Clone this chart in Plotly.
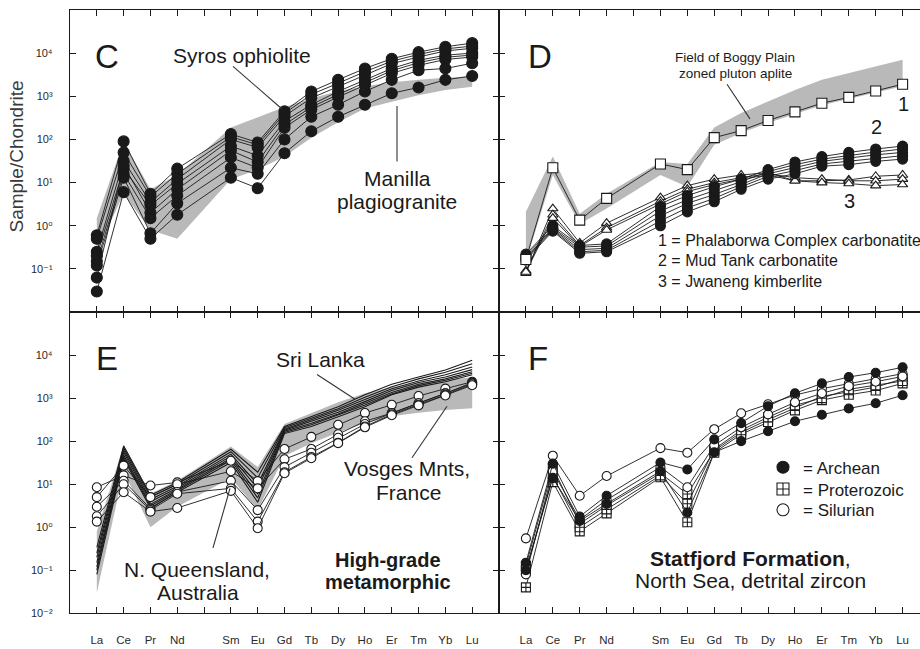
import plotly.graph_objects as go

W, H = 920, 649

# REE axis positions (Pm is a gap with no data) and the plotted elements
AXIS_ELEMENTS = ["La", "Ce", "Pr", "Nd", "Pm", "Sm", "Eu", "Gd", "Tb", "Dy", "Ho", "Er", "Tm", "Yb", "Lu"]
REE = ["La", "Ce", "Pr", "Nd", "Sm", "Eu", "Gd", "Tb", "Dy", "Ho", "Er", "Tm", "Yb", "Lu"]
TICK_TEXT = ["" if e == "Pm" else e for e in AXIS_ELEMENTS]

# ---- Panel C: Syros ophiolite zircons and Manilla plagiogranite field
syros = [
    [0.6, 90, 5.5, 21, 133, 85, 450, 1290, 2400, 4400, 7400, 10500, 14000, 17000],
    [0.5, 50, 4.7, 16, 115, 75, 400, 1100, 2000, 3700, 6500, 9300, 12500, 14500],
    [0.25, 32, 3.5, 12, 100, 65, 345, 910, 1670, 3100, 5700, 8100, 11200, 12900],
    [0.2, 21, 3.0, 9.4, 70, 42, 265, 635, 1290, 2400, 4400, 6800, 8900, 10000],
    [0.063, 25, 2.0, 7.0, 55, 30, 220, 560, 1100, 2100, 3900, 6000, 8000, 9000],
    [0.15, 16, 1.5, 5.0, 38, 22, 187, 490, 960, 1830, 3400, 5200, 7100, 8100],
    [0.12, 13, 0.67, 3.3, 22, 16, 100, 335, 635, 1290, 2400, 4000, 4400, 5800],
    [0.03, 6, 0.5, 1.8, 13, 7.4, 48, 155, 335, 635, 1170, 1600, 2400, 2950],
]
manilla_upper = [1.5, 90, 7, 15, 190, 330, 560, 900, 1300, 1700, 2100, 2400, 2700, 2900]
manilla_lower = [0.25, 5.5, 0.8, 0.5, 12, 20, 40, 110, 250, 520, 750, 1050, 1400, 1650]

# ---- Panel D: carbonatites, kimberlite and Boggy Plain aplite field
phalaborwa = [0.165, 22, 1.35, 4.3, 27, 20, 110, 160, 275, 435, 690, 940, 1320, 1900]
mud_tank = [
    [0.22, 1.0, 0.35, 0.38, 2.8, 5.0, 8.0, 12, 20, 30, 40, 50, 60, 70],
    [0.2, 0.9, 0.32, 0.34, 2.2, 4.0, 6.5, 10.5, 18, 26, 35, 43, 51, 60],
    [0.18, 0.85, 0.28, 0.3, 1.7, 3.3, 5.3, 9, 16, 22, 31, 37, 44, 50],
    [0.17, 0.8, 0.25, 0.27, 1.3, 2.6, 4.3, 8, 14, 19, 27, 31, 37, 42],
    [0.16, 0.75, 0.23, 0.25, 1.0, 2.1, 3.6, 7, 12, 16, 24, 26, 31, 35],
]
jwaneng = [
    [0.08, 2.5, 0.4, 1.15, 4.5, 8.5, 12, 15, 17, 11, 11, 11.5, 14, 15],
    [0.09, 1.8, 0.35, 0.9, 3.7, 7, 10, 13, 16, 13, 12, 11, 11, 12],
    [0.085, 1.5, 0.33, 0.8, 3.2, 6.2, 9, 12, 15, 11, 10, 9.5, 8.5, 9],
]
boggy_upper = [2.1, 40, 1.9, 5.5, 30, 27, 190, 410, 760, 1400, 2400, 3400, 4800, 7000]
boggy_lower = [0.15, 15, 1.1, 2.5, 15, 8, 75, 140, 240, 390, 620, 870, 1200, 1700]

# ---- Panel E: high-grade metamorphic zircons
sri_lanka = [
    [0.34, 78, 5.5, 11, 65, 19, 220, 370, 630, 1200, 2100, 3100, 4500, 7600],
    [0.25, 70, 5.0, 10, 57, 14, 205, 340, 570, 1050, 1850, 2800, 4000, 6300],
    [0.2, 62, 4.4, 9, 50, 10, 190, 310, 520, 930, 1650, 2500, 3500, 5300],
    [0.15, 55, 3.9, 8.2, 45, 8, 180, 290, 470, 830, 1500, 2300, 3100, 4600],
    [0.12, 48, 3.4, 7.5, 40, 6, 170, 260, 430, 750, 1350, 2100, 2800, 4100],
    [0.1, 43, 3.1, 7, 36, 4.8, 160, 240, 400, 690, 1250, 1950, 2600, 3800],
    [0.08, 39, 2.8, 6.5, 32, 3.8, 150, 220, 370, 630, 1200, 1800, 2400, 3500],
]
queensland = [
    [8.5, 16, 9.3, 11, 35, 11.8, 66, 126, 240, 450, 700, 1120, 1660, 2400],
    [5, 27, 5, 10, 20, 8, 38, 66, 145, 290, 450, 760, 1290, 2300],
    [3, 12, 2.7, 6.6, 12, 2.5, 25, 54, 120, 250, 450, 760, 1290, 2200],
    [1.8, 10, 2.5, 6, 8, 1.35, 19, 43, 92, 220, 420, 700, 1200, 2100],
    [1.35, 6.5, 2.3, 2.8, 7, 0.95, 18, 40, 90, 210, 400, 680, 1150, 2000],
]
vosges_upper = [0.8, 80, 6, 12, 75, 25, 250, 450, 800, 1300, 1800, 2300, 2700, 3000]
vosges_lower = [0.03, 20, 1.0, 3, 14, 2.5, 45, 90, 160, 260, 380, 460, 530, 580]

# ---- Panel F: Statfjord Formation detrital zircons
archean = [
    [0.15, 30, 1.78, 5.4, 32, 22, 110, 263, 650, 1300, 2200, 3100, 3900, 5200],
    [0.1, 14, 1.4, 3.5, 20, 2.2, 55, 100, 170, 290, 410, 575, 760, 1170],
]
proterozoic = [
    [0.126, 24.5, 1.2, 3.2, 18, 5.9, 60, 160, 316, 580, 1100, 1400, 1800, 2800],
    [0.04, 11.2, 0.8, 2.1, 14.5, 1.3, 54, 145, 280, 520, 900, 1200, 1500, 2200],
    [0.1, 15, 1.0, 2.6, 16, 3.5, 65, 180, 360, 680, 1000, 1600, 2000, 2500],
]
silurian = [
    [0.55, 46, 5.4, 15.5, 69, 54, 190, 445, 720, 1180, 1660, 2180, 2800, 3700],
    [0.08, 20, 1.5, 4.3, 25, 8.5, 80, 210, 420, 800, 1300, 1900, 2400, 3200],
]

# log-axis decades and their labels
DECADES = [1e-2, 1e-1, 1, 10, 100, 1e3, 1e4]
DEC_TEXT = ["10⁻²", "10⁻¹", "10⁰", "10¹", "10²", "10³", "10⁴"]

# numeric x position of each plotted element along the REE axis
XPOS = [AXIS_ELEMENTS.index(e) for e in REE]

FONT = "Arial, Liberation Sans, DejaVu Sans, sans-serif"
INK = "#1a1a1a"
FIELD = "#b9b9b9"

fig = go.Figure()


def field(upper, lower, xa, ya):
    fig.add_trace(go.Scatter(
        x=XPOS + XPOS[::-1], y=upper + lower[::-1], fill="toself", mode="lines",
        fillcolor=FIELD, line=dict(width=0, color=FIELD), hoverinfo="skip",
        showlegend=False, xaxis=xa, yaxis=ya))


def series(values, xa, ya, symbol, fill, size, lw=0.9):
    fig.add_trace(go.Scatter(
        x=XPOS, y=values, mode="lines+markers", showlegend=False,
        line=dict(color=INK, width=lw),
        marker=dict(symbol=symbol, size=size, color=fill, line=dict(color=INK, width=1.1)),
        xaxis=xa, yaxis=ya))


# C
field(manilla_upper, manilla_lower, "x", "y")
for s in syros:
    series(s, "x", "y", "circle", INK, 11)

# D
field(boggy_upper, boggy_lower, "x2", "y2")
for s in jwaneng:
    series(s, "x2", "y2", "triangle-up", "white", 9)
for s in mud_tank:
    series(s, "x2", "y2", "circle", INK, 10)
series(phalaborwa, "x2", "y2", "square", "white", 10)

# E
field(vosges_upper, vosges_lower, "x3", "y3")
for s in sri_lanka:
    fig.add_trace(go.Scatter(x=XPOS, y=s, mode="lines", showlegend=False,
                             line=dict(color=INK, width=1.1), xaxis="x3", yaxis="y3"))
for s in queensland:
    series(s, "x3", "y3", "circle", "white", 9)

# F
for s in proterozoic:
    series(s, "x4", "y4", "square-cross", "white", 9)
for s in silurian:
    series(s, "x4", "y4", "circle", "white", 9)
for s in archean:
    series(s, "x4", "y4", "circle", INK, 9)


def px(x):
    return x / W


def py(y):
    return 1 - y / H


# one legend per age group so the rows sit at their own heights
KEY = [("= Archean", "circle", INK, "legend", 472),
       ("= Proterozoic", "square-cross", "white", "legend2", 494),
       ("= Silurian", "circle", "white", "legend3", 515)]
legend_layout = {}
for name, sym, col, lg, row in KEY:
    fig.add_trace(go.Scatter(x=[None], y=[None], mode="markers", name=name, showlegend=True,
                             legend=lg,
                             marker=dict(symbol=sym, size=12, color=col, line=dict(color=INK, width=1.1)),
                             xaxis="x4", yaxis="y4"))
    legend_layout[lg] = dict(x=px(763), y=py(row), xanchor="left", yanchor="middle",
                             bgcolor="rgba(0,0,0,0)", borderwidth=0,
                             font=dict(family=FONT, size=17, color=INK))

LEFT = [px(70), px(499)]
RIGHT = [px(499), 1.0]
TOP = [py(315), py(10)]
BOTTOM = [py(619), py(315)]


def xcfg(domain, rng, anchor, labels):
    return dict(domain=domain, range=rng, anchor=anchor, tickmode="array",
                tickvals=list(range(len(AXIS_ELEMENTS))), ticktext=TICK_TEXT,
                showticklabels=labels, ticks="inside", ticklen=6, tickwidth=1.1,
                tickcolor=INK, showline=True, linecolor=INK, linewidth=1.4, mirror="ticks",
                showgrid=False, zeroline=False, ticklabelstandoff=16,
                tickfont=dict(family=FONT, size=11.5, color="#2a2a2a"))


def ycfg(domain, anchor, labelled_from, labels, mirror):
    return dict(domain=domain, type="log", range=[-2, 5], anchor=anchor, tickmode="array",
                tickvals=DECADES[labelled_from:], ticktext=DEC_TEXT[labelled_from:],
                showticklabels=labels, ticks="inside", ticklen=6, tickwidth=1.1, tickcolor=INK,
                showline=True, linecolor=INK, linewidth=1.4, mirror=mirror,
                showgrid=False, zeroline=False, ticklabelstandoff=14,
                tickfont=dict(family=FONT, size=11, color="#2a2a2a"))


RIGHT_RANGE = [-1, (920 - 526) / 26.9]

fig.update_layout(
    width=W, height=H, margin=dict(l=0, r=0, t=0, b=0),
    paper_bgcolor="white", plot_bgcolor="white",
    font=dict(family=FONT, color=INK),
    xaxis=xcfg(LEFT, [-1, 15], "y", False),
    yaxis=ycfg(TOP, "x", 1, True, "ticks"),
    xaxis2=xcfg(RIGHT, RIGHT_RANGE, "y2", False),
    yaxis2=ycfg(TOP, "x2", 1, False, False),
    xaxis3=xcfg(LEFT, [-1, 15], "y3", True),
    yaxis3=ycfg(BOTTOM, "x3", 0, True, "ticks"),
    xaxis4=xcfg(RIGHT, RIGHT_RANGE, "y4", True),
    yaxis4=ycfg(BOTTOM, "x4", 0, False, False),
    showlegend=True,
    **legend_layout,
)

ann = []


def text(t, x, y, size, anchor="center", bold=False):
    ann.append(dict(text=f"<b>{t}</b>" if bold else t, x=px(x), y=py(y), xref="paper", yref="paper",
                    xanchor=anchor, yanchor="middle", showarrow=False,
                    font=dict(family=FONT, size=size, color=INK)))


for letter, x, y in [("C", 107, 57), ("D", 540, 57), ("E", 107, 362), ("F", 538, 362)]:
    text(letter, x, y, 33)

text("Syros ophiolite", 242, 56, 21)
text("Manilla", 397, 180, 21)
text("plagiogranite", 397, 203, 21)
text("Field of Boggy Plain", 735, 58, 13.5)
text("zoned pluton aplite", 735, 74.5, 13.5)
text("1", 903, 105, 20)
text("2", 876, 128, 20)
text("3", 849, 203, 20)
text("1 = Phalaborwa Complex carbonatite", 656, 243, 16, "left")
text("2 = Mud Tank carbonatite", 656, 263, 16, "left")
text("3 = Jwaneng kimberlite", 656, 284, 16, "left")
text("Sri Lanka", 320, 363, 21)
text("Vosges Mnts,", 407, 473, 21)
text("France", 408, 497, 21)
text("N. Queensland,", 197, 575, 21)
text("Australia", 198, 598, 21)
text("High-grade", 388, 565, 20, bold=True)
text("metamorphic", 388, 587, 20, bold=True)
text("<b>Statfjord Formation</b>,", 750, 564, 21)
text("North Sea, detrital zircon", 750, 586, 21)

ann.append(dict(text="Sample/Chondrite", x=px(17), y=py(158), xref="paper", yref="paper",
                textangle=-90, showarrow=False, xanchor="center", yanchor="middle",
                font=dict(family=FONT, size=19, color="#3a3a3a")))
fig.update_layout(annotations=ann)

# leader lines from labels to the sample groups
shapes = []
for x0, y0, x1, y1 in [(233, 67, 282, 110), (397, 107, 397, 163), (727, 85, 750, 120),
                       (317, 378, 355, 403), (412, 462, 447, 410), (213, 553, 230, 493)]:
    shapes.append(dict(type="line", xref="paper", yref="paper", x0=px(x0), y0=py(y0),
                       x1=px(x1), y1=py(y1), line=dict(color="#333", width=1.1)))
fig.update_layout(shapes=shapes)

fig.write_html("out.html")
